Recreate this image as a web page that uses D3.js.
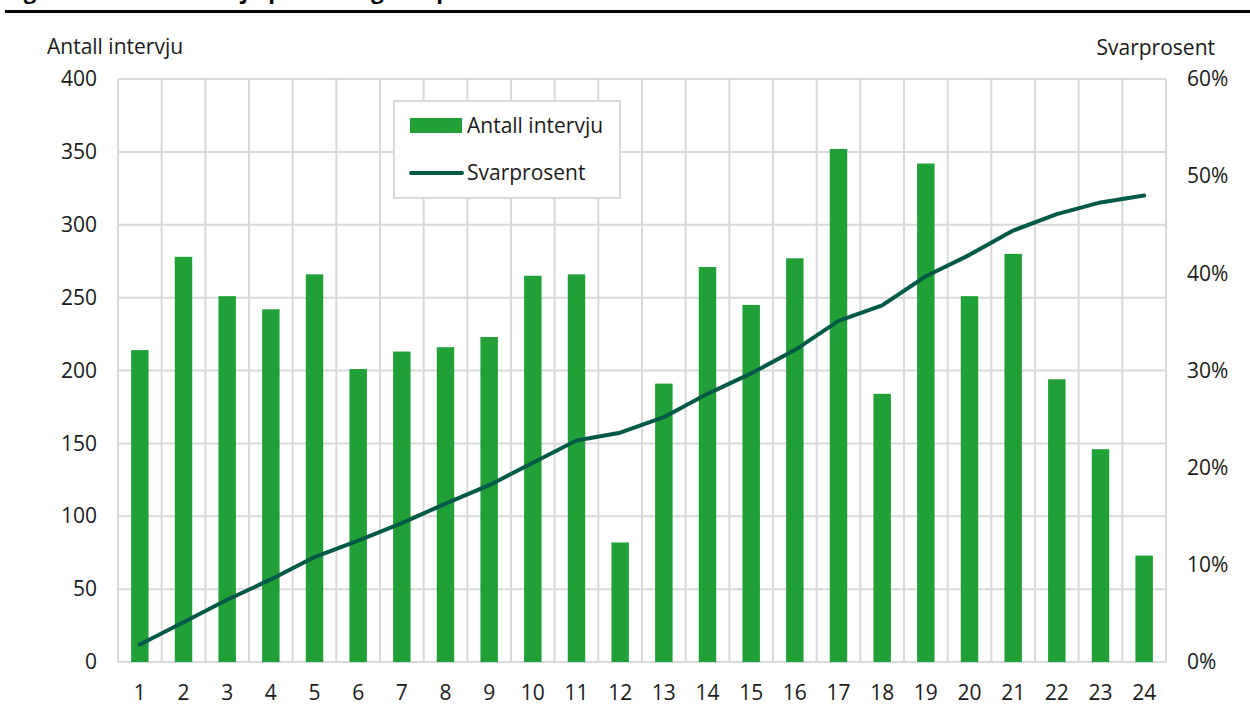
<!DOCTYPE html>
<html>
<head>
<meta charset="utf-8">
<script src="https://cdn.jsdelivr.net/npm/d3@7"></script>
<style>
  body { margin: 0; background: #fff; }
  svg { display: block; font-family: "Open Sans", "Noto Sans", sans-serif; }
</style>
</head>
<body>
<svg id="chart" width="1250" height="711"></svg>
<script>
// data
const uker = d3.range(1, 25).map(String);
const antallIntervju = [214, 278, 251, 242, 266, 201, 213, 216, 223, 265, 266, 82,
                        191, 271, 245, 277, 352, 184, 342, 251, 280, 194, 146, 73];
const svarprosent = [1.8, 4.1, 6.4, 8.5, 10.8, 12.5, 14.3, 16.3, 18.2, 20.5, 22.8, 23.6,
                     25.2, 27.6, 29.7, 32.1, 35.1, 36.7, 39.7, 41.9, 44.4, 46.1, 47.3, 48.0];
const venstreTicks = [0, 50, 100, 150, 200, 250, 300, 350, 400];
const hoyreTicks = [0, 10, 20, 30, 40, 50, 60];

const gronn = '#21a038';
const morkGronn = '#005a45';
const grid = '#d9d9d9';
const fontStr = '21px';

const svg = d3.select('#chart');
const marg = { left: 118, right: 1166, top: 79, bottom: 662 };

// tittel (kuttet i toppen, som i originalen)
svg.append('text')
    .attr('x', 5).attr('y', -1)
    .style('font-size', '22px').style('font-weight', '700')
    .text('Figur 3.1 Antall intervju per uke og svarprosent');
svg.append('rect')
    .attr('x', 5).attr('y', 10).attr('width', 1245).attr('height', 3)
    .attr('fill', '#000');

const x = d3.scaleBand().domain(uker).range([marg.left, marg.right]).paddingInner(0).paddingOuter(0);
const yV = d3.scaleLinear().domain([0, 400]).range([marg.bottom, marg.top]);
const yH = d3.scaleLinear().domain([0, 60]).range([marg.bottom, marg.top]);

// horisontale gridlinjer
svg.append('g').selectAll('line')
    .data(venstreTicks)
    .enter().append('line')
    .attr('x1', marg.left).attr('x2', marg.right)
    .attr('y1', d => yV(d)).attr('y2', d => yV(d))
    .attr('stroke', grid).attr('stroke-width', 2);

// vertikale gridlinjer mellom kategoriene
const kanter = uker.map(u => x(u)).concat([marg.right]);
svg.append('g').selectAll('line')
    .data(kanter)
    .enter().append('line')
    .attr('x1', d => d).attr('x2', d => d)
    .attr('y1', marg.top).attr('y2', marg.bottom)
    .attr('stroke', grid).attr('stroke-width', 2);

// stolper
const bredde = x.bandwidth() * 0.4;
svg.append('g').selectAll('rect')
    .data(antallIntervju)
    .enter().append('rect')
    .attr('x', (d, i) => x(uker[i]) + (x.bandwidth() - bredde) / 2)
    .attr('y', d => yV(d))
    .attr('width', bredde)
    .attr('height', d => yV(0) - yV(d))
    .attr('fill', gronn);

// linje
const linje = d3.line()
    .x((d, i) => x(uker[i]) + x.bandwidth() / 2)
    .y(d => yH(d));
svg.append('path')
    .datum(svarprosent)
    .attr('d', linje)
    .attr('fill', 'none')
    .attr('stroke', morkGronn)
    .attr('stroke-width', 4)
    .attr('stroke-linecap', 'round')
    .attr('stroke-linejoin', 'round');

// akser
const venstreAkse = d3.axisLeft(yV).tickValues(venstreTicks).tickSize(0).tickPadding(21);
const gV = svg.append('g').attr('transform', `translate(${marg.left},0)`).call(venstreAkse);
const hoyreAkse = d3.axisRight(yH).tickValues(hoyreTicks).tickSize(0).tickPadding(21)
    .tickFormat(d => d + '%');
const gH = svg.append('g').attr('transform', `translate(${marg.right},0)`).call(hoyreAkse);
const xAkse = d3.axisBottom(x).tickSize(0).tickPadding(23);
const gX = svg.append('g').attr('transform', `translate(0,${marg.bottom})`).call(xAkse);

[gV, gH, gX].forEach(g => {
    g.select('.domain').remove();
    g.selectAll('text')
        .attr('fill', '#1a1a1a')
        .style('font-size', fontStr)
        .style('font-family', '"Open Sans", "Noto Sans", sans-serif');
});

// aksetitler
svg.append('text').attr('x', 47).attr('y', 54)
    .style('font-size', fontStr).attr('fill', '#1a1a1a').text('Antall intervju');
svg.append('text').attr('x', 1215).attr('y', 55).attr('text-anchor', 'end')
    .style('font-size', fontStr).attr('fill', '#1a1a1a').text('Svarprosent');

// legende
const leg = svg.append('g');
leg.append('rect')
    .attr('x', 394).attr('y', 101).attr('width', 226).attr('height', 97)
    .attr('fill', '#fff').attr('stroke', grid).attr('stroke-width', 2);
leg.append('rect')
    .attr('x', 410).attr('y', 118).attr('width', 52).attr('height', 15)
    .attr('fill', gronn);
leg.append('line')
    .attr('x1', 411).attr('x2', 462).attr('y1', 173).attr('y2', 173)
    .attr('stroke', morkGronn).attr('stroke-width', 4).attr('stroke-linecap', 'round');
leg.append('text').attr('x', 467).attr('y', 133)
    .style('font-size', fontStr).attr('fill', '#1a1a1a').text('Antall intervju');
leg.append('text').attr('x', 467).attr('y', 180)
    .style('font-size', fontStr).attr('fill', '#1a1a1a').text('Svarprosent');
</script>
</body>
</html>
